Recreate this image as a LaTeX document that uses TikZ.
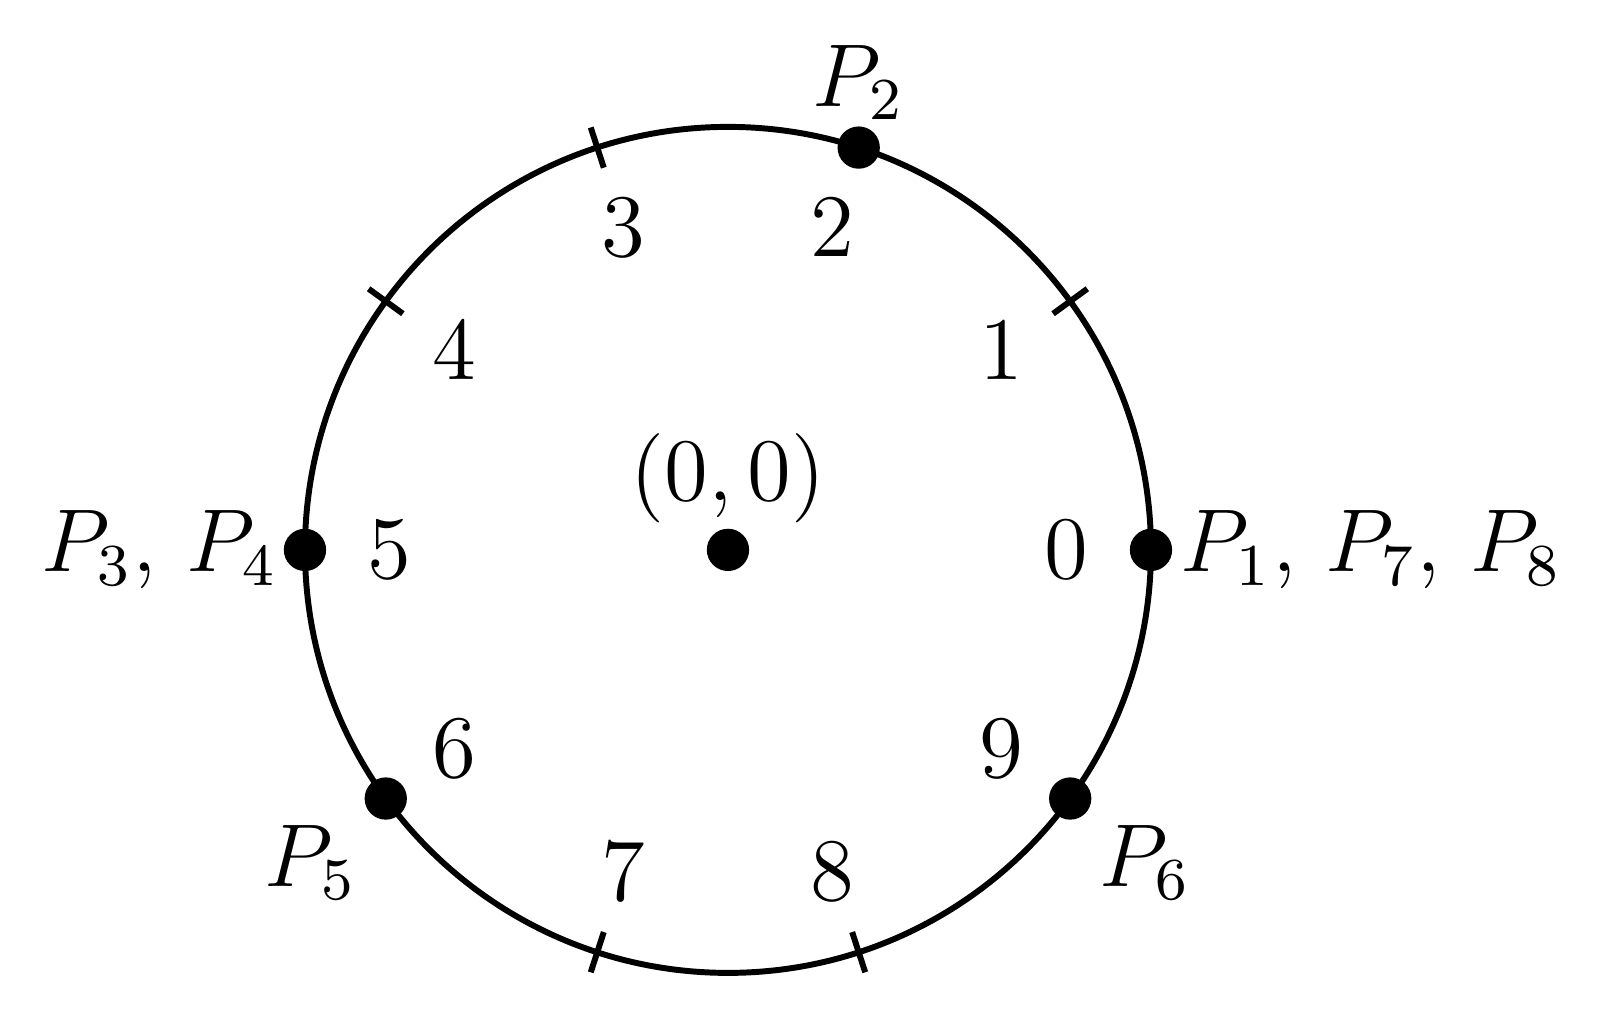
\documentclass[tikz,border=0pt]{standalone}

\newcommand{\drawticks}[1]
{\foreach \a in {#1}
		{\draw (\a:1.9)--(\a:2.1);
			};
}
\newcommand{\drawsectors}[1]
{\foreach \k in {0,...,#1}
		{\node (s\k) at (\k*36:1.6) {$\k$};
			};
}
\tikzset{point/.style={circle,fill=black,inner sep=0pt,minimum size=0.2cm},
	plabel/.style={inner sep=0pt}}

\begin{document}
\begin{tikzpicture}[font=\large, line width=0.8pt]
\useasboundingbox (-3.442,-2.237) rectangle (4.123,2.6);

\begin{scope}
	\draw (0,0) circle (2);
	\drawticks{36,108,144,252,288};
	\drawsectors{9};
\end{scope}

\node[point] (O) at (0,0) {};
\node[point] (P1) at (0:2) {};%P1, P7, P8
\node[point] (P2) at (72:2) {};
\node[point] (P3) at (180:2) {};%P3, P4
\node[point] (P5) at (216:2) {};
\node[point] (P6) at (324:2) {};

\node[plabel,anchor=base] (O-lab) at ([yshift=0.232cm]O) {$(0,0)$};
\node[plabel,anchor=base] (P2-lab) at ([yshift=0.194cm]P2) {$P_2$};
\node[plabel,anchor=base west] (P1-lab) at ([shift={(0.125,-0.104)}]P1) {$P_1$, $P_7$, $P_8$};
\node[plabel,anchor=base east] (P3-lab) at ([shift={(-0.115,-0.104)}]P3) {$P_3$, $P_4$};
\node[plabel,anchor=base] (P5-lab) at ([shift={(-0.355,-0.416)}]P5) {$P_5$};
\node[plabel,anchor=base] (P6-lab) at ([shift={(0.355,-0.416)}]P6) {$P_6$};

\end{tikzpicture}
\end{document}
